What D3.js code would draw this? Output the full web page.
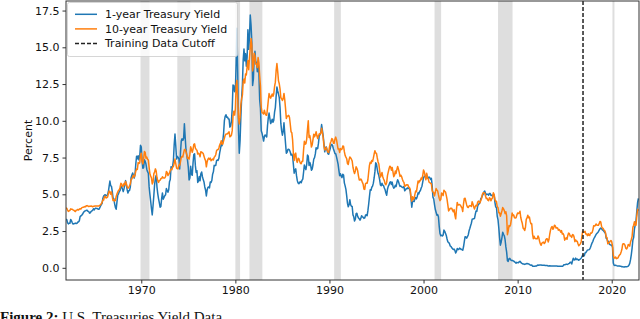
<!DOCTYPE html>
<html>
<head>
<meta charset="utf-8">
<script src="https://cdn.jsdelivr.net/npm/d3@7"></script>
<style>
  body { margin: 0; background: #fff; overflow: hidden; }
  svg { display: block; }
</style>
</head>
<body>
<svg id="chart"></svg>
<script>
// monthly series starting Jan 1962
var startYear = 1962;

var oneYear = [
  3.28,3.28,3.06,2.99,3.03,3.03,3.29,3.20,3.06,2.98,3.00,3.01,
  3.04,3.01,3.03,3.11,3.12,3.20,3.48,3.53,3.57,3.64,3.74,3.81,
  3.87,3.88,3.91,3.91,3.84,3.83,3.72,3.74,3.84,3.86,3.91,4.02,
  3.94,4.03,4.06,4.04,4.03,3.99,3.98,4.07,4.20,4.30,4.37,4.72,
  4.88,4.94,4.97,4.90,4.93,4.97,5.17,5.54,5.90,5.58,5.54,5.20,
  4.75,4.71,4.35,4.11,3.98,4.48,4.94,5.03,5.19,5.26,5.53,5.51,
  5.36,5.18,5.38,5.66,5.93,5.64,5.31,5.09,5.24,5.26,5.49,6.12,
  6.30,6.45,6.29,6.10,6.34,7.04,7.59,7.41,7.63,7.34,7.53,8.33,
  8.23,7.30,6.77,6.81,7.35,7.24,7.06,6.71,6.54,6.43,5.52,5.00,
  4.53,4.02,3.60,4.22,4.90,5.66,6.09,6.28,5.51,5.05,4.71,4.43,
  4.12,4.17,4.72,5.09,4.67,4.79,4.90,4.97,5.39,5.26,5.14,5.31,
  5.86,6.01,6.88,6.81,6.90,7.31,8.39,9.10,8.31,7.40,7.58,7.51,
  7.40,6.72,7.83,8.62,8.78,8.67,8.80,9.80,8.87,8.05,7.66,7.31,
  6.83,5.98,6.11,6.90,6.39,6.29,7.11,7.70,7.75,6.95,6.49,6.60,
  5.81,5.91,6.21,5.92,6.40,6.52,6.20,6.00,5.84,5.50,5.29,4.89,
  5.29,5.47,5.50,5.44,5.84,5.80,5.94,6.37,6.53,6.97,6.95,6.96,
  7.28,7.34,7.31,7.45,7.82,8.09,8.39,8.31,8.64,9.14,10.01,10.30,
  10.41,10.24,10.25,10.12,10.12,9.57,9.64,9.98,10.84,12.44,12.39,11.98,
  12.06,13.92,16.30,13.30,9.39,7.80,8.65,10.24,11.52,12.49,14.15,14.88,
  14.08,14.57,13.71,14.32,16.20,14.86,15.72,17.20,16.52,15.38,12.41,12.85,
  14.32,14.73,13.95,13.98,13.34,14.07,13.24,11.43,10.85,9.32,9.16,8.91,
  8.62,8.92,9.04,8.98,8.90,9.66,10.20,10.53,10.16,9.81,9.94,10.11,
  9.90,10.04,10.59,10.90,11.66,12.30,12.03,11.82,11.58,10.90,9.82,9.33,
  9.02,9.29,9.86,9.14,8.46,7.80,7.86,8.05,8.07,8.01,7.88,7.67,
  7.73,7.61,7.03,6.44,6.65,6.73,6.27,5.93,5.77,5.72,5.80,5.87,
  5.78,5.96,6.03,6.50,7.00,6.80,6.68,7.03,7.67,7.59,6.96,7.17,
  6.99,6.64,6.71,7.01,7.40,7.49,7.75,8.17,8.09,8.11,8.48,8.99,
  9.05,9.25,9.75,9.36,8.98,8.44,7.89,8.18,8.22,7.99,7.77,7.72,
  7.92,8.11,8.35,8.40,8.32,8.10,7.94,7.78,7.76,7.55,7.31,7.05,
  6.64,6.27,6.40,6.24,6.13,6.36,6.31,5.78,5.57,5.33,4.89,4.38,
  4.15,4.29,4.63,4.30,4.19,4.17,3.60,3.47,3.18,3.30,3.68,3.71,
  3.50,3.39,3.33,3.24,3.36,3.54,3.47,3.44,3.36,3.39,3.58,3.61,
  3.54,3.87,4.32,4.82,5.31,5.27,5.48,5.56,5.76,6.11,6.54,7.14,
  7.05,6.70,6.43,6.27,6.00,5.64,5.59,5.75,5.62,5.59,5.43,5.31,
  5.09,4.94,5.34,5.54,5.64,5.81,5.85,5.67,5.83,5.55,5.42,5.47,
  5.61,5.53,5.80,5.99,5.87,5.69,5.54,5.56,5.52,5.46,5.46,5.53,
  5.24,5.31,5.39,5.38,5.44,5.41,5.36,5.21,4.71,4.12,4.53,4.52,
  4.51,4.70,4.78,4.69,4.85,5.10,5.03,5.20,5.25,5.43,5.55,5.84,
  6.12,6.22,6.22,6.15,6.33,6.17,6.08,6.18,6.13,6.01,6.09,5.60,
  4.81,4.68,4.30,3.98,3.78,3.58,3.62,3.47,2.82,2.33,2.18,2.22,
  2.16,2.23,2.57,2.48,2.35,2.20,1.96,1.76,1.72,1.65,1.49,1.45,
  1.36,1.30,1.24,1.27,1.18,1.01,1.12,1.31,1.24,1.25,1.34,1.31,
  1.24,1.24,1.19,1.43,1.78,2.12,2.10,2.02,2.12,2.23,2.50,2.67,
  2.86,3.03,3.30,3.32,3.33,3.36,3.64,3.87,3.85,4.18,4.33,4.35,
  4.45,4.68,4.77,4.90,5.00,5.16,5.22,5.08,4.97,5.01,5.01,4.94,
  5.06,5.05,4.92,4.93,4.91,4.96,4.96,4.47,4.14,4.10,3.50,3.26,
  2.71,2.05,1.54,1.74,2.06,2.42,2.28,2.18,1.91,1.42,1.07,0.49,
  0.44,0.62,0.64,0.55,0.50,0.51,0.48,0.46,0.40,0.37,0.31,0.37,
  0.35,0.35,0.40,0.45,0.37,0.32,0.29,0.26,0.26,0.23,0.25,0.29,
  0.27,0.29,0.26,0.25,0.19,0.18,0.19,0.11,0.10,0.11,0.11,0.12,
  0.12,0.16,0.19,0.18,0.19,0.19,0.19,0.18,0.18,0.18,0.18,0.16,
  0.15,0.16,0.15,0.12,0.12,0.14,0.12,0.13,0.12,0.12,0.12,0.13,
  0.12,0.12,0.13,0.11,0.10,0.10,0.11,0.11,0.11,0.10,0.13,0.21,
  0.20,0.22,0.25,0.23,0.24,0.28,0.30,0.38,0.37,0.26,0.48,0.65,
  0.54,0.53,0.66,0.56,0.59,0.55,0.51,0.57,0.59,0.66,0.74,0.87,
  0.83,0.82,1.01,1.04,1.12,1.20,1.22,1.23,1.28,1.40,1.56,1.70,
  1.80,1.96,2.06,2.15,2.27,2.33,2.39,2.45,2.56,2.65,2.70,2.66,
  2.58,2.55,2.49,2.42,2.34,2.00,1.96,1.77,1.80,1.61,1.57,1.55,
  1.53,1.41,0.33,0.18,0.16,0.18,0.15,0.13,0.13,0.13,0.12,0.10,
  0.10,0.07,0.08,0.06,0.05,0.07,0.08,0.07,0.08,0.11,0.18,0.30,
  0.55,0.90,1.34,1.89,2.06,2.65,2.90,3.21,3.86,4.43,4.73
];

var tenYear = [
  4.08,4.04,3.93,3.84,3.87,3.91,4.01,3.98,3.98,3.93,3.92,3.86,
  3.83,3.92,3.93,3.97,3.93,3.99,4.02,4.00,4.08,4.11,4.12,4.13,
  4.17,4.15,4.22,4.23,4.20,4.17,4.19,4.19,4.20,4.19,4.15,4.18,
  4.19,4.21,4.21,4.20,4.21,4.21,4.20,4.25,4.29,4.35,4.45,4.62,
  4.61,4.83,4.87,4.75,4.78,4.81,5.02,5.22,5.18,5.01,5.16,4.84,
  4.58,4.63,4.54,4.59,4.85,5.02,5.16,5.28,5.30,5.48,5.75,5.70,
  5.53,5.56,5.74,5.64,5.87,5.72,5.50,5.42,5.46,5.58,5.70,6.03,
  6.04,6.19,6.30,6.17,6.32,6.57,6.72,6.69,7.16,7.10,7.14,7.65,
  7.79,7.24,7.07,7.39,7.91,7.84,7.46,7.53,7.39,7.33,6.84,6.39,
  6.24,6.11,5.70,5.83,6.39,6.52,6.73,6.58,6.14,5.93,5.81,5.93,
  5.95,6.08,6.07,6.19,6.13,6.11,6.11,6.21,6.55,6.48,6.28,6.36,
  6.46,6.64,6.71,6.67,6.85,6.90,7.13,7.40,7.09,6.79,6.73,6.74,
  6.99,6.96,7.21,7.51,7.58,7.54,7.81,8.04,8.04,7.90,7.68,7.43,
  7.50,7.39,7.73,8.23,8.06,7.86,8.06,8.40,8.43,8.14,8.05,8.00,
  7.74,7.79,7.73,7.56,7.90,7.86,7.83,7.77,7.59,7.41,7.29,6.87,
  7.21,7.39,7.46,7.37,7.46,7.28,7.33,7.40,7.34,7.52,7.58,7.69,
  7.96,8.03,8.04,8.15,8.35,8.46,8.64,8.41,8.42,8.64,8.81,9.01,
  9.10,9.10,9.12,9.18,9.25,8.91,8.95,9.03,9.33,10.30,10.65,10.39,
  10.80,12.41,12.75,11.47,10.18,9.78,10.25,11.10,11.51,11.75,12.68,12.84,
  12.57,13.19,13.12,13.68,14.10,13.47,14.28,14.94,15.60,15.15,13.39,13.72,
  14.59,14.43,13.86,13.87,13.62,14.30,13.95,13.06,12.34,10.91,10.55,10.54,
  10.46,10.72,10.51,10.40,10.38,10.85,11.38,11.85,11.65,11.54,11.69,11.83,
  11.67,11.84,12.32,12.63,13.41,13.90,13.36,12.72,12.52,12.16,11.57,11.50,
  11.38,11.51,11.86,11.43,10.85,10.16,10.31,10.33,10.37,10.24,9.78,9.26,
  9.19,8.70,7.78,7.30,7.71,7.80,7.30,7.17,7.45,7.43,7.25,7.11,
  7.08,7.25,7.25,8.02,8.61,8.40,8.45,8.76,9.42,10.00,8.86,8.99,
  8.67,8.21,8.37,8.72,9.09,8.92,9.06,9.26,8.98,8.80,8.96,9.11,
  9.09,9.17,9.50,9.18,8.86,8.28,8.02,8.11,8.19,8.01,7.87,7.84,
  8.21,8.47,8.59,8.79,8.76,8.48,8.47,8.75,8.89,8.72,8.39,8.08,
  8.09,7.85,8.11,8.04,8.07,8.28,8.27,7.90,7.65,7.53,7.42,7.09,
  7.03,7.34,7.54,7.48,7.39,7.26,6.84,6.59,6.42,6.59,6.87,6.77,
  6.60,6.26,5.98,5.97,6.04,5.96,5.81,5.68,5.36,5.33,5.72,5.77,
  5.75,5.97,6.48,6.97,7.18,7.10,7.30,7.24,7.46,7.74,7.96,7.81,
  7.78,7.47,7.20,7.06,6.63,6.17,6.28,6.49,6.20,6.04,5.93,5.71,
  5.65,5.81,6.27,6.51,6.74,6.91,6.87,6.64,6.83,6.53,6.20,6.30,
  6.58,6.42,6.69,6.89,6.71,6.49,6.22,6.30,6.21,6.03,5.88,5.81,
  5.54,5.57,5.65,5.64,5.65,5.50,5.46,5.34,4.81,4.53,4.83,4.65,
  4.72,5.00,5.23,5.18,5.54,5.90,5.79,5.94,5.92,6.11,6.03,6.28,
  6.66,6.52,6.26,5.99,6.44,6.10,6.05,5.83,5.80,5.74,5.72,5.24,
  5.16,5.10,4.89,5.14,5.39,5.28,5.24,4.97,4.73,4.57,4.65,5.09,
  5.04,4.91,5.28,5.21,5.16,4.93,4.65,4.26,3.87,3.94,4.05,4.03,
  4.05,3.90,3.81,3.96,3.57,3.33,3.98,4.45,4.27,4.29,4.30,4.27,
  4.15,4.08,3.83,4.35,4.72,4.73,4.50,4.28,4.13,4.10,4.19,4.23,
  4.22,4.17,4.50,4.34,4.14,4.00,4.18,4.26,4.20,4.46,4.54,4.47,
  4.42,4.57,4.72,4.99,5.11,5.11,5.09,4.88,4.72,4.73,4.60,4.56,
  4.76,4.72,4.56,4.69,4.75,5.10,5.00,4.67,4.52,4.53,4.15,4.10,
  3.74,3.74,3.51,3.68,3.88,4.10,4.01,3.89,3.69,3.81,3.53,2.25,
  2.52,2.87,2.82,2.93,3.29,3.72,3.56,3.59,3.40,3.39,3.40,3.59,
  3.73,3.69,3.73,3.85,3.42,3.20,3.01,2.70,2.65,2.54,2.76,3.29,
  3.39,3.58,3.41,3.46,3.17,3.00,3.00,2.30,1.98,2.15,2.01,1.98,
  1.97,1.97,2.17,2.05,1.80,1.62,1.53,1.68,1.72,1.75,1.65,1.72,
  1.91,1.98,1.96,1.76,1.93,2.30,2.58,2.74,2.81,2.62,2.72,2.90,
  2.86,2.71,2.72,2.71,2.56,2.60,2.54,2.42,2.53,2.30,2.33,2.21,
  1.88,1.98,2.04,1.94,2.20,2.36,2.32,2.17,2.17,2.07,2.26,2.24,
  2.09,1.78,1.89,1.81,1.81,1.64,1.50,1.56,1.63,1.76,2.14,2.49,
  2.43,2.42,2.48,2.30,2.30,2.19,2.32,2.21,2.20,2.36,2.35,2.40,
  2.58,2.86,2.84,2.87,2.98,2.91,2.89,2.89,3.00,3.15,3.12,2.83,
  2.71,2.68,2.57,2.53,2.40,2.07,2.06,1.63,1.70,1.71,1.81,1.86,
  1.76,1.50,0.87,0.66,0.67,0.73,0.62,0.65,0.68,0.79,0.87,0.93,
  1.08,1.26,1.61,1.64,1.62,1.52,1.32,1.28,1.37,1.58,1.56,1.47,
  1.76,1.93,2.13,2.75,2.90,3.14,2.90,2.90,3.52,3.98,3.89
];

// NBER recessions (decimal years)
var recessionStart = [1969.92, 1973.83, 1980.0, 1981.5, 1990.5, 2001.17, 2007.92, 2020.08];
var recessionEnd   = [1970.87, 1975.21, 1980.5, 1982.87, 1991.21, 2001.87, 2009.46, 2020.29];

var cutoffYear = 2016.95;

var yTicks = [0, 2.5, 5, 7.5, 10, 12.5, 15, 17.5];
var xTicks = [1970, 1980, 1990, 2000, 2010, 2020];

var seriesNames = ['1-year Treasury Yield', '10-year Treasury Yield', 'Training Data Cutoff'];
var seriesColors = ['#1f77b4', '#ff7f0e', '#222'];

var width = 640,
    height = 319,
    plotLeft = 66, plotRight = 639, plotTop = 1, plotBottom = 280;

var svg = d3.select('#chart')
  .attr('width', width)
  .attr('height', height)
  .style('font-family', '"DejaVu Sans", sans-serif');

var xScale = d3.scaleLinear()
  .domain([1962.0, 2022.9])
  .range([plotLeft, plotRight]);
var yScale = d3.scaleLinear()
  .domain([-0.83, 18.15])
  .range([plotBottom, plotTop]);

svg.append('clipPath').attr('id', 'plotclip')
  .append('rect')
  .attr('x', plotLeft).attr('y', plotTop)
  .attr('width', plotRight - plotLeft).attr('height', plotBottom - plotTop);

// recession bands
svg.append('g')
  .selectAll('rect')
  .data(recessionStart)
  .enter()
  .append('rect')
    .attr('x', d => xScale(d))
    .attr('y', plotTop)
    .attr('width', (d, i) => xScale(recessionEnd[i]) - xScale(d))
    .attr('height', plotBottom - plotTop)
    .attr('fill', '#dedede');

var line = d3.line()
  .x((d, i) => xScale(startYear + i / 12))
  .y(d => yScale(d));

var plotArea = svg.append('g').attr('clip-path', 'url(#plotclip)');

plotArea.append('path')
  .datum(oneYear)
  .attr('d', line)
  .attr('fill', 'none')
  .attr('stroke', seriesColors[0])
  .attr('stroke-width', 1.5)
  .attr('stroke-linejoin', 'round');

plotArea.append('path')
  .datum(tenYear)
  .attr('d', line)
  .attr('fill', 'none')
  .attr('stroke', seriesColors[1])
  .attr('stroke-width', 1.5)
  .attr('stroke-linejoin', 'round');

svg.append('line')
  .attr('x1', xScale(cutoffYear)).attr('x2', xScale(cutoffYear))
  .attr('y1', plotTop).attr('y2', plotBottom)
  .attr('stroke', seriesColors[2])
  .attr('stroke-width', 1.5)
  .attr('stroke-dasharray', '4,2');

// axes
var xAxis = d3.axisBottom(xScale)
  .tickValues(xTicks)
  .tickFormat(d3.format('d'))
  .tickSize(3.5)
  .tickPadding(3)
  .tickSizeOuter(0);
var yAxis = d3.axisLeft(yScale)
  .tickValues(yTicks)
  .tickFormat(d3.format('.1f'))
  .tickSize(3.5)
  .tickPadding(3)
  .tickSizeOuter(0);

var gx = svg.append('g')
  .attr('transform', 'translate(0,' + plotBottom + ')')
  .call(xAxis);
var gy = svg.append('g')
  .attr('transform', 'translate(' + plotLeft + ',0)')
  .call(yAxis);

[gx, gy].forEach(function(g){
  g.selectAll('text').attr('font-size', 11).attr('fill', '#111').style('font-family', '"DejaVu Sans", sans-serif');
  g.selectAll('line').attr('stroke', '#333');
  g.select('.domain').remove();
});

// frame
svg.append('rect')
  .attr('x', plotLeft).attr('y', plotTop)
  .attr('width', plotRight - plotLeft).attr('height', plotBottom - plotTop)
  .attr('fill', 'none')
  .attr('stroke', '#333')
  .attr('stroke-width', 1);

svg.append('text')
  .attr('transform', 'rotate(-90)')
  .attr('x', -(plotTop + plotBottom) / 2)
  .attr('y', 32)
  .style('text-anchor', 'middle')
  .attr('font-size', 11)
  .attr('fill', '#111')
  .text('Percent');

// legend
var legend = svg.append('g');
legend.append('rect')
  .attr('x', 67.5).attr('y', 2.5)
  .attr('width', 170).attr('height', 54)
  .attr('rx', 2)
  .attr('fill', '#fff')
  .attr('fill-opacity', 0.8)
  .attr('stroke', '#ccc')
  .attr('stroke-width', 0.8);

var rows = legend.selectAll('g.row')
  .data(seriesNames)
  .enter()
  .append('g')
    .attr('transform', (d, i) => 'translate(0,' + (14.3 + i * 14.6) + ')');
rows.append('line')
  .attr('x1', 75).attr('x2', 97)
  .attr('stroke', (d, i) => seriesColors[i])
  .attr('stroke-width', 1.5)
  .attr('stroke-dasharray', (d, i) => i == 2 ? '4,2' : null);
rows.append('text')
  .attr('x', 105)
  .attr('dy', '0.35em')
  .attr('font-size', 11)
  .attr('fill', '#111')
  .text(d => d);

// caption, cut off by the page edge
var caption = svg.append('text')
  .attr('x', 0)
  .attr('y', 322)
  .style('font-family', '"Liberation Serif", "Times New Roman", serif')
  .attr('font-size', 15)
  .attr('fill', '#111');
caption.append('tspan').attr('font-weight', 'bold').text('Figure 2:');
caption.append('tspan').text(' U.S. Treasuries Yield Data');
</script>
</body>
</html>
